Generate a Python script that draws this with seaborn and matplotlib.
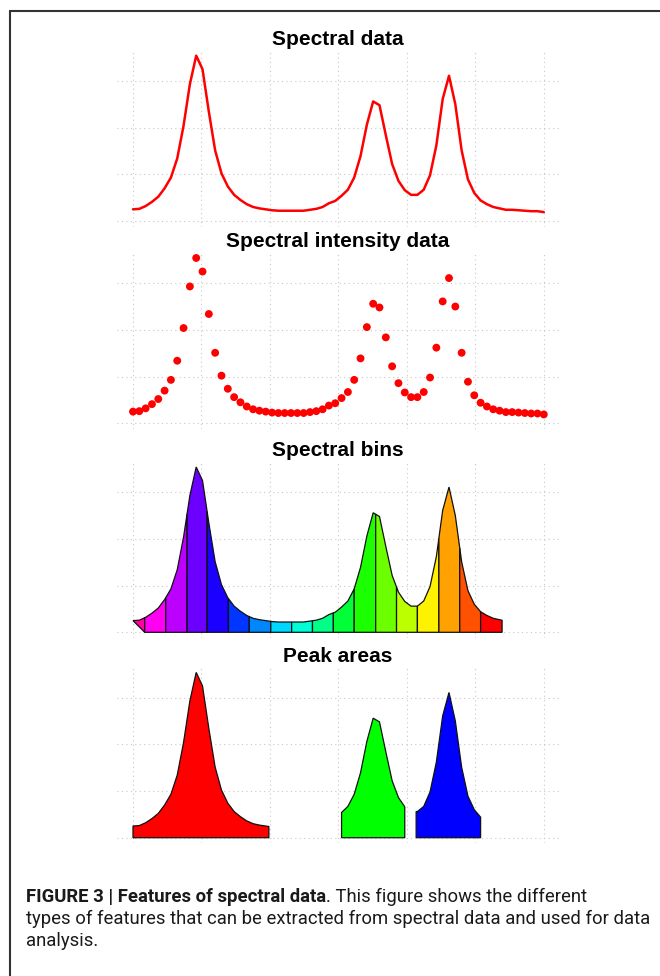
import numpy as np
import pandas as pd
import seaborn as sns
import matplotlib.pyplot as plt
from matplotlib.colors import hsv_to_rgb
from matplotlib.lines import Line2D

# spectrum sampled at 66 points (index 0..65), intensity in grid units
intensity = [0.25, 0.26, 0.32, 0.41, 0.52, 0.70, 0.93, 1.34, 2.04, 2.93,
             3.54, 3.25, 2.34, 1.51, 1.02, 0.74, 0.56, 0.45, 0.36, 0.30,
             0.27, 0.25, 0.23, 0.22, 0.22, 0.22, 0.22, 0.22, 0.24, 0.26,
             0.30, 0.38, 0.43, 0.54, 0.67, 0.93, 1.39, 2.06, 2.56, 2.48,
             1.84, 1.22, 0.86, 0.66, 0.56, 0.56, 0.67, 0.98, 1.62, 2.61,
             3.11, 2.50, 1.51, 0.89, 0.60, 0.44, 0.36, 0.30, 0.27, 0.24,
             0.24, 0.23, 0.22, 0.21, 0.21, 0.19]

# spectral bin boundaries (in sample index units)
bin_edges = [0, 1.85, 5.18, 8.56, 11.73, 15.1, 18.4, 21.8, 25.1, 28.4,
             31.7, 35.0, 38.4, 41.7, 45.0, 48.4, 51.7, 55.0, 58.4]

# peak regions (start, end) and colours
peak_ranges = [(0, 21.5), (33, 43), (44.8, 55)]
peak_colors = ['#FF0000', '#00FF00', '#0000FF']

titles = ['Spectral data', 'Spectral intensity data', 'Spectral bins', 'Peak areas']

caption_bold = 'FIGURE 3 | Features of spectral data'
caption_lines = ['. This figure shows the different',
                 'types of features that can be extracted from spectral data and used for data',
                 'analysis.']

x = np.arange(len(intensity))
yv = np.asarray(intensity)
df = pd.DataFrame({'x': x, 'y': yv})

# rainbow colours, red at the right end
bin_colors = [hsv_to_rgb((k / 19, 1, 1)) for k in range(17, -1, -1)]

W, H = 660, 976
sns.set_style('white')
plt.rcParams['font.family'] = ['Liberation Sans', 'DejaVu Sans']
fig = plt.figure(figsize=(W / 100, H / 100), dpi=100)

X0, UX, UY = 133.0, 6.32, 46.7
XLIM = (-2.6, 67.6)
YLIM = (-0.12, 3.63)
baselines = [221.0, 423.3, 632.3, 837.7]
title_y = [45, 247, 456.5, 662.5]


def make_ax(yb):
    left = X0 + XLIM[0] * UX
    right = X0 + XLIM[1] * UX
    top = yb - YLIM[1] * UY
    bottom = yb - YLIM[0] * UY
    ax = fig.add_axes([left / W, 1 - bottom / H, (right - left) / W, (bottom - top) / H])
    ax.set_xlim(XLIM)
    ax.set_ylim(YLIM)
    ax.set_axis_off()
    for gx in np.linspace(0, 65, 7):
        ax.axvline(gx, color='#c8c8c8', lw=0.8, ls=(0, (1, 3)), zorder=0)
    for gy in range(4):
        ax.axhline(gy, color='#c8c8c8', lw=0.8, ls=(0, (1, 3)), zorder=0)
    return ax


def segment(a, b):
    inner = x[(x > a) & (x < b)]
    xs = np.concatenate([[a], inner, [b]])
    return xs, np.interp(xs, x, yv)


axes = [make_ax(yb) for yb in baselines]

# panel 1: line
sns.lineplot(data=df, x='x', y='y', ax=axes[0], color='#FF0000', lw=1.8)

# panel 2: points
sns.scatterplot(data=df, x='x', y='y', ax=axes[1], color='#FF0000', s=32,
                edgecolor='none')

# panel 3: bins
for i in range(len(bin_edges) - 1):
    a, b = bin_edges[i], bin_edges[i + 1]
    xs, ys = segment(a, b)
    if i == 0:
        px = np.concatenate([xs, [b]])
        py = np.concatenate([ys, [0]])
    else:
        px = np.concatenate([xs, [b, a]])
        py = np.concatenate([ys, [0, 0]])
    axes[2].fill(px, py, facecolor=bin_colors[i], edgecolor='#111111', lw=0.9)

# panel 4: peak areas
for (a, b), c in zip(peak_ranges, peak_colors):
    xs, ys = segment(a, b)
    px = np.concatenate([xs, [b, a]])
    py = np.concatenate([ys, [0, 0]])
    axes[3].fill(px, py, facecolor=c, edgecolor='#111111', lw=0.9)

for t, ty in zip(titles, title_y):
    fig.text(338 / W, 1 - ty / H, t, ha='center', va='baseline',
             fontsize=15, fontweight='bold', color='black')

# frame
fig.add_artist(Line2D([9.5 / W, 9.5 / W], [0, 1 - 10.5 / H], transform=fig.transFigure,
                      color='#333333', lw=1.5))
fig.add_artist(Line2D([9.5 / W, 1], [1 - 10.5 / H, 1 - 10.5 / H], transform=fig.transFigure,
                      color='#333333', lw=1.5))

# caption, size fitted so the second line spans ~625 px
cap_font = ['Roboto', 'DejaVu Sans']
renderer = fig.canvas.get_renderer()
probe = fig.text(0, 0, caption_lines[1], fontsize=10, family=cap_font)
w10 = probe.get_window_extent(renderer).width
probe.remove()
cap_fs = 10 * 625 / w10

cap_x = 26
cap_y = [901.5, 923.5, 945.5]
t1 = fig.text(cap_x / W, 1 - cap_y[0] / H, caption_bold, fontsize=cap_fs, family=cap_font,
              fontweight='bold', va='baseline', color='#1a1a1a')
x1 = t1.get_window_extent(renderer).x1
fig.text(x1 / W, 1 - cap_y[0] / H, caption_lines[0], fontsize=cap_fs, family=cap_font,
         va='baseline', color='#1a1a1a')
for line, yy in zip(caption_lines[1:], cap_y[1:]):
    fig.text(cap_x / W, 1 - yy / H, line, fontsize=cap_fs, family=cap_font,
             va='baseline', color='#1a1a1a')

fig.savefig('out.png', dpi=100)
